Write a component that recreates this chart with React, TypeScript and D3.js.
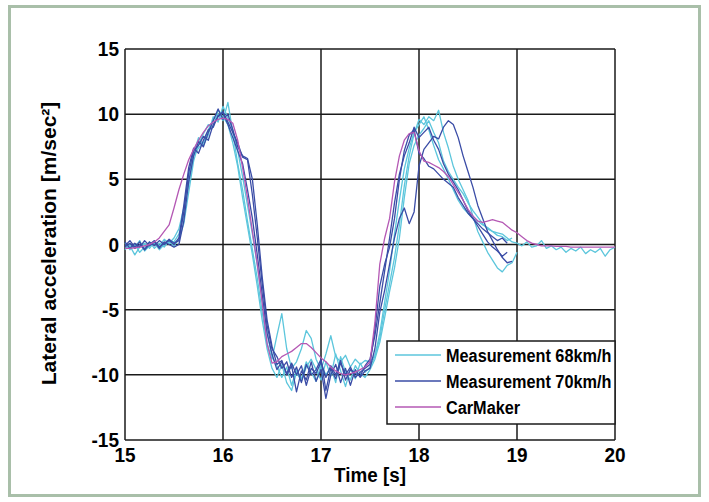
import React from 'react';
import * as d3 from 'd3';

const TIME = [
  15.00, 15.05, 15.10, 15.15, 15.20, 15.25, 15.30, 15.35, 15.40, 15.45,
  15.50, 15.55, 15.60, 15.65, 15.70, 15.75, 15.80, 15.85, 15.90, 15.95,
  16.00, 16.05, 16.10, 16.15, 16.20, 16.25, 16.30, 16.35, 16.40, 16.45,
  16.50, 16.55, 16.60, 16.65, 16.70, 16.75, 16.80, 16.85, 16.90, 16.95,
  17.00, 17.05, 17.10, 17.15, 17.20, 17.25, 17.30, 17.35, 17.40, 17.45,
  17.50, 17.55, 17.60, 17.65, 17.70, 17.75, 17.80, 17.85, 17.90, 17.95,
  18.00, 18.05, 18.10, 18.15, 18.20, 18.25, 18.30, 18.35, 18.40, 18.45,
  18.50, 18.55, 18.60, 18.65, 18.70, 18.75, 18.80, 18.85, 18.90, 18.95,
  19.00, 19.05, 19.10, 19.15, 19.20, 19.25, 19.30, 19.35, 19.40, 19.45,
  19.50, 19.55, 19.60, 19.65, 19.70, 19.75, 19.80, 19.85, 19.90, 19.95,
  20.00,
];

const CARMAKER = [
  -0.3, -0.3, -0.25, -0.2, -0.1, 0.0, 0.2, 0.5, 1.0, 1.5,
  2.8, 4.2, 5.4, 6.5, 7.3, 8.0, 8.6, 9.1, 9.4, 9.6,
  9.7, 9.6, 9.3, 8.0, 5.9, 3.6, 1.0, -1.5, -4.5, -7.6,
  -9.1, -9.0, -8.6, -8.4, -8.2, -7.9, -7.6, -7.6, -7.9, -8.3,
  -8.7, -9.0, -9.4, -9.7, -9.9, -10.0, -9.9, -9.8, -9.6, -9.4,
  -9.0, -6.0, -1.5, 0.5, 2.0, 4.8, 6.8, 8.0, 8.5, 8.6,
  7.2, 6.4, 6.3, 6.1, 5.9, 5.6, 5.2, 4.6, 4.0, 3.4,
  2.7, 2.2, 1.8, 1.7, 1.8, 1.9, 1.8, 1.7, 1.4, 1.1,
  0.9, 0.6, 0.3, 0.1, 0.0, -0.1, -0.1, -0.1, -0.15, -0.15,
  -0.15, -0.2, -0.2, -0.2, -0.2, -0.2, -0.2, -0.2, -0.2, -0.2,
  -0.2,
];

const M70_RUN1 = [
  -0.2, 0.1, -0.3, 0.0, -0.4, 0.2, -0.1, 0.3, 0.0, 0.4,
  0.1, 0.3, 2.5, 5.5, 7.2, 7.6, 8.3, 8.0, 9.2, 9.8,
  10.2, 9.4, 8.6, 7.8, 6.7, 6.5, 3.8, 0.5, -3.0, -6.2,
  -8.0, -8.6, -9.5, -9.0, -10.2, -9.4, -10.6, -9.2, -10.0, -9.6,
  -8.8, -11.2, -9.5, -10.3, -9.1, -10.0, -9.4, -10.2, -9.8, -9.5,
  -9.2, -6.5, -3.2, -1.5, -0.2, 2.0, 5.0, 7.2, 8.4, 8.8,
  7.0, 6.6, 6.0, 5.8, 5.4, 5.0, 4.7, 4.4, 3.6, 3.0,
  2.4, 2.0, 1.6, 1.2, 0.9, 0.6, 0.3, 0.5, 0.1,
];

const M70_RUN2 = [
  0.2, -0.3, 0.1, -0.2, 0.3, -0.1, 0.2, -0.3, 0.2, 0.0,
  -0.2, 0.0, 1.8, 4.8, 6.8, 7.9, 7.5, 8.6, 9.5, 10.4,
  9.6, 10.0, 8.8, 7.5, 6.8, 6.6, 5.0, 1.5, -2.5, -5.8,
  -7.8, -9.2, -8.9, -10.0, -9.3, -11.3, -9.7, -10.4, -9.0, -10.5,
  -9.6, -11.8, -10.0, -9.2, -10.6, -9.5, -10.8, -9.6, -10.2, -9.7,
  -9.5, -8.0, -5.2, -3.5, -1.5, 0.5, 2.0, 2.8, 1.6, 2.5,
  6.0, 7.3, 7.8, 8.3, 8.1, 9.0, 9.5, 9.2, 8.2, 6.8,
  5.6, 4.4, 3.0, 2.0, 1.0, 0.3, -0.4, -1.0, -1.4, -1.3,
];

const M70_RUN3 = [
  -0.1, 0.3, -0.2, 0.2, -0.4, 0.0, 0.3, -0.2, 0.1, 0.3,
  0.0, 0.5, 3.0, 5.9, 7.4, 7.0, 8.0, 8.8, 9.0, 9.9,
  10.1, 9.2, 8.2, 7.2, 6.2, 4.2, 2.0, -0.8, -3.8, -6.8,
  -8.4, -9.6, -9.0, -9.9, -9.1, -10.0, -9.3, -10.8, -9.5, -9.9,
  -9.0, -10.2, -9.3, -10.0, -8.9, -10.4, -9.6, -9.9, -10.1, -9.3,
  -8.8, -7.0, -4.5, -2.0, 0.5, 3.2, 5.4, 6.8, 7.8, 9.0,
  8.2, 8.6, 9.0, 8.0, 7.3, 6.2, 5.4, 4.8, 4.2, 3.4,
  2.6, 2.0, 1.4, 0.8, 0.2, -0.2, -0.5, -0.9, -0.6,
];

const M68_RUN1 = [
  -0.3, -0.1, -0.8, -0.2, 0.1, -0.3, 0.2, -0.1, 0.4, 0.1,
  0.5, 1.2, 2.8, 4.6, 6.8, 7.4, 7.8, 8.8, 9.6, 10.0,
  9.5, 10.9, 8.6, 6.2, 4.2, 1.8, -0.4, -2.6, -5.2, -7.6,
  -8.8, -7.0, -5.3, -8.0, -9.5, -9.0, -8.0, -6.6, -7.2, -8.8,
  -9.6, -8.4, -7.0, -8.6, -9.0, -8.5, -9.4, -8.8, -9.2, -8.9,
  -9.0, -8.5, -7.2, -5.0, -3.0, -1.0, 1.5, 4.5, 6.8, 8.5,
  9.6, 9.2, 9.8, 9.5, 10.3, 8.6, 7.4, 6.0, 5.0, 4.2,
  3.4, 2.2, 1.0, 0.2, -0.6, -1.2, -1.8, -2.1, -1.6, -1.4,
  -0.6,
];

const M68_RUN2 = [
  0.1, -0.4, 0.0, -0.6, -0.2, 0.2, -0.3, 0.1, -0.2, 0.3,
  0.2, 0.8, 2.2, 5.2, 7.0, 8.2, 7.6, 8.4, 9.8, 9.4,
  10.6, 9.7, 8.8, 7.2, 5.2, 3.0, 0.8, -1.6, -4.2, -6.8,
  -8.6, -9.3, -10.2, -9.4, -10.8, -9.6, -10.3, -9.0, -9.8, -10.5,
  -9.2, -10.0, -9.4, -10.6, -8.6, -9.8, -10.4, -9.3, -9.9, -10.2,
  -9.6, -8.8, -7.5, -5.6, -3.6, -1.8, 0.5, 3.6, 6.2, 7.6,
  8.4, 8.9, 9.5, 8.6, 7.8, 6.4, 5.6, 5.0, 4.4, 3.9,
  3.2, 2.6, 2.1, 1.6, 1.2, 1.0, 0.9, 0.8, 0.5, 0.2,
  0.1, -0.1, 0.2, -0.2, -0.1, 0.3, -0.3, -0.1, -0.4, -0.2,
  -0.6, -0.3, -0.5, -0.2, -0.7, -0.4, -0.6, -0.3, -0.9, -0.4,
  -0.2,
];

const M68_RUN3 = [
  -0.4, 0.0, -0.2, 0.3, -0.5, -0.1, 0.1, -0.4, 0.0, 0.2,
  -0.1, 0.4, 1.6, 4.0, 6.4, 7.7, 8.5, 9.2, 9.0, 10.3,
  9.8, 9.2, 7.8, 6.0, 3.6, 1.4, -0.8, -3.2, -5.8, -8.0,
  -9.5, -10.2, -9.2, -10.6, -11.2, -9.8, -10.5, -9.4, -8.8, -9.6,
  -10.4, -9.0, -10.1, -8.4, -9.7, -10.9, -9.5, -10.3, -9.1, -9.8,
  -9.4, -8.6, -6.8, -4.4, -2.0, 0.8, 3.4, 5.8, 7.4, 8.6,
  9.2, 9.8, 8.8, 7.6, 6.5, 5.8, 5.0, 4.2, 3.4, 2.8,
  2.4, 2.0, 1.8, 1.5, 1.3, 1.0, 0.7, 0.6, 0.3, 0.5,
];

const X_TICKS = [15, 16, 17, 18, 19, 20];
const Y_TICKS = [-15, -10, -5, 0, 5, 10, 15];

const LEGEND_LABELS = ['Measurement 68km/h', 'Measurement 70km/h', 'CarMaker'];

const CYAN = '#5cc6dc';
const BLUE = '#3a4ca6';
const MAGENTA = '#b458b4';

const FONT = '"Liberation Sans", Arial, Helvetica, sans-serif';

export default function App() {
  const W = 709;
  const H = 502;
  const x = d3.scaleLinear().domain([15, 20]).range([125, 615]);
  const y = d3.scaleLinear().domain([-15, 15]).range([440, 49]);
  const line = d3
    .line<[number, number]>()
    .x((d) => x(d[0]))
    .y((d) => y(d[1]));
  const pts = (vals: number[]) => vals.map((v, i) => [TIME[i], v] as [number, number]);

  const series = [
    { vals: M68_RUN1, color: CYAN },
    { vals: M68_RUN2, color: CYAN },
    { vals: M68_RUN3, color: CYAN },
    { vals: M70_RUN1, color: BLUE },
    { vals: M70_RUN2, color: BLUE },
    { vals: M70_RUN3, color: BLUE },
    { vals: CARMAKER, color: MAGENTA },
  ];

  const legendColors = [CYAN, BLUE, MAGENTA];
  const [x0, x1] = x.range();
  const [yb, yt] = y.range();

  return (
    <svg
      width={W}
      height={H}
      style={{ position: 'absolute', left: 0, top: 0, background: '#fff' }}
      fontFamily={FONT}
    >
      <rect x={0} y={0} width={W} height={H} fill="#fff" />
      <rect x={9.5} y={6.5} width={690} height={489} fill="none" stroke="#a9bfa9" strokeWidth={3} />

      {/* grid */}
      {X_TICKS.map((t) => (
        <line key={'gx' + t} x1={x(t)} x2={x(t)} y1={yt} y2={yb} stroke="#1a1a1a" strokeWidth={1.5} />
      ))}
      {Y_TICKS.map((t) => (
        <line key={'gy' + t} x1={x0} x2={x1} y1={y(t)} y2={y(t)} stroke="#1a1a1a" strokeWidth={1.5} />
      ))}

      {/* curves */}
      {series.map((s, i) => (
        <path key={i} d={line(pts(s.vals)) || ''} fill="none" stroke={s.color} strokeWidth={1.3} strokeLinejoin="round" />
      ))}

      {/* tick labels */}
      {X_TICKS.map((t) => (
        <text
          key={'tx' + t}
          transform={`translate(${x(t)}, 462) scale(0.95, 1)`}
          textAnchor="middle"
          fontSize={20}
          fontWeight="bold"
          fill="#000"
        >
          {t}
        </text>
      ))}
      {Y_TICKS.map((t) => (
        <text
          key={'ty' + t}
          transform={`translate(119, ${y(t) + 7}) scale(0.95, 1)`}
          textAnchor="end"
          fontSize={20}
          fontWeight="bold"
          fill="#000"
        >
          {t}
        </text>
      ))}

      {/* axis titles */}
      <text
        transform={`translate(370, 482) scale(0.92, 1)`}
        textAnchor="middle"
        fontSize={20.5}
        fontWeight="bold"
        fill="#000"
      >
        Time [s]
      </text>
      <text
        transform={`translate(56, ${y(0) - 1}) rotate(-90)`}
        textAnchor="middle"
        fontSize={21}
        fontWeight="bold"
        fill="#000"
      >
        Lateral acceleration [m/sec²]
      </text>

      {/* legend */}
      <rect x={387} y={341} width={x1 - 387} height={83} fill="#fff" stroke="#1a1a1a" strokeWidth={1.5} />
      {LEGEND_LABELS.map((lab, i) => {
        const cy = 355 + i * 26;
        return (
          <g key={lab}>
            <line x1={395} x2={441} y1={cy} y2={cy} stroke={legendColors[i]} strokeWidth={1.4} />
            <text
              transform={`translate(446, ${cy + 7}) scale(0.88, 1)`}
              fontSize={18.5}
              fontWeight="bold"
              fill="#000"
            >
              {lab}
            </text>
          </g>
        );
      })}
    </svg>
  );
}
